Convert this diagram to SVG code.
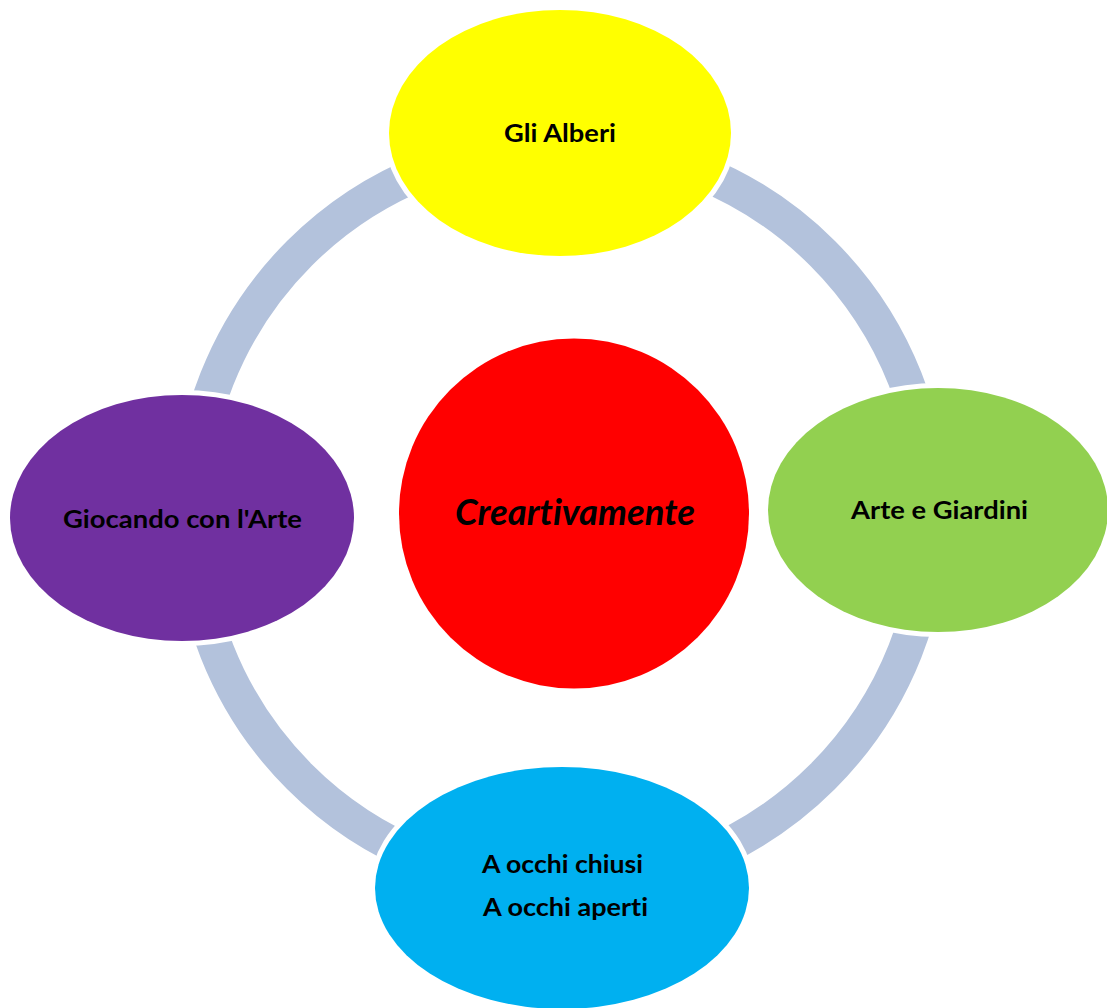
<svg xmlns="http://www.w3.org/2000/svg" width="1107" height="1008" viewBox="0 0 1107 1008">
<style>
.ring{fill:none;stroke:#B3C2DC;stroke-width:35}
.node{stroke:#FFFFFF;stroke-width:10;paint-order:stroke}
.lbl{font-family:Lato,"Open Sans","Liberation Sans",sans-serif;font-weight:bold;font-size:25px;fill:#000000;font-variant-ligatures:none}
.center{font-family:Lato,"Open Sans","Liberation Sans",sans-serif;font-weight:bold;font-style:italic;font-size:36px;fill:#000000;font-variant-ligatures:none}
</style>
<rect width="1107" height="1008" fill="#FFFFFF"/>
<g id="connectors">
<path class="ring" d="M561,145 A370,370 0 0 1 931,515"/>
<path class="ring" d="M931,515 A370,370 0 0 1 561,885"/>
<path class="ring" d="M561,885 A370,370 0 0 1 191,515"/>
<path class="ring" d="M191,515 A370,370 0 0 1 561,145"/>
</g>
<g id="node-center">
<circle cx="574" cy="513.5" r="175" fill="#FF0000"/>
<text class="center" x="455" y="525" textLength="240" lengthAdjust="spacingAndGlyphs">Creartivamente</text>
</g>
<g id="node-top">
<ellipse class="node" cx="560" cy="133" rx="171" ry="123" fill="#FFFF00"/>
<text class="lbl" x="504" y="142" textLength="112" lengthAdjust="spacingAndGlyphs">Gli Alberi</text>
</g>
<g id="node-right">
<ellipse class="node" cx="938" cy="510" rx="170" ry="122" fill="#92D050"/>
<text class="lbl" x="851" y="519" textLength="177" lengthAdjust="spacingAndGlyphs">Arte e Giardini</text>
</g>
<g id="node-bottom">
<ellipse class="node" cx="562" cy="888" rx="187" ry="121" fill="#00B0F0"/>
<text class="lbl" x="482" y="873" textLength="161" lengthAdjust="spacingAndGlyphs">A occhi chiusi</text>
<text class="lbl" x="483" y="916" textLength="165" lengthAdjust="spacingAndGlyphs">A occhi aperti</text>
</g>
<g id="node-left">
<ellipse class="node" cx="182" cy="518" rx="172" ry="123" fill="#7030A0"/>
<text class="lbl" x="63" y="528" textLength="239" lengthAdjust="spacingAndGlyphs">Giocando con l'Arte</text>
</g>
</svg>
